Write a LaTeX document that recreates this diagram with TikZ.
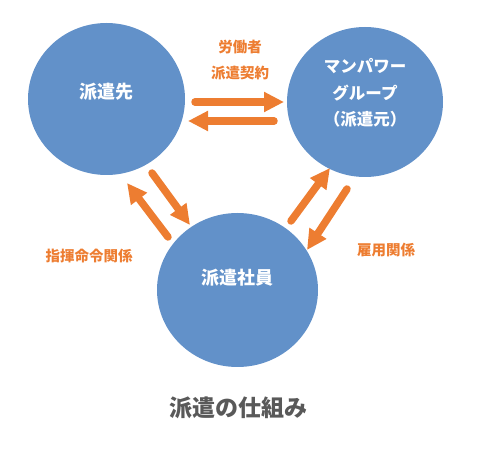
\documentclass[tikz,border=0pt]{standalone}
\usepackage{fontspec}
\setmainfont{Noto Sans CJK JP}
\usetikzlibrary{arrows.meta,positioning,shapes.geometric}
\definecolor{maru}{RGB}{98,145,201}
\definecolor{yaji}{RGB}{237,125,49}
\definecolor{hai}{RGB}{89,89,89}

\begin{document}
\begin{tikzpicture}[x=1pt,y=-1pt,
  circ/.style={ellipse,fill=maru,inner sep=0pt},
  ctext/.style={text=white,font=\bfseries\fontsize{18}{26.5}\selectfont,align=center},
  lbl/.style={text=yaji,font=\bfseries\fontsize{14.5}{26}\selectfont,align=center},
  yajirushi/.style={draw=yaji,line width=7.5pt,line cap=round,-{Triangle[length=20pt,width=19pt]}}]
\useasboundingbox (0,0) rectangle (480,454);
\node[circ,minimum width=157pt,minimum height=152pt] (saki) at (106.5,99) {};
\node[circ,minimum width=156pt,minimum height=150pt] (moto) at (365,102) {};
\node[circ,minimum width=161pt,minimum height=154pt] (shain) at (237.5,290) {};
\node[ctext] (sakitext) at ([yshift=7pt]saki.center) {派遣先};
\node[ctext,font=\bfseries\fontsize{16.5}{26.5}\selectfont] (mototext) at ([yshift=9pt]moto.center) {マンパワー\\グループ\\（派遣元）};
\node[ctext] (shaintext) at ([yshift=12pt]shain.center) {派遣社員};
% arrow ends
\coordinate (a1) at (195,102); \coordinate (b1) at (284,102);
\coordinate (a2) at (274,121); \coordinate (b2) at (188,121);
\coordinate (a3) at (152,173); \coordinate (b3) at (190,225);
\coordinate (a4) at (168,237); \coordinate (b4) at (127,183);
\coordinate (a5) at (291,221); \coordinate (b5) at (330,168);
\coordinate (a6) at (347,189); \coordinate (b6) at (307,250);
\foreach \s/\e in {a1/b1,a2/b2,a3/b3,a4/b4,a5/b5,a6/b6}{\draw[yajirushi] (\s) -- (\e);}
\node[lbl] (keiyaku) at (240,60) {労働者\\派遣契約};
\node[lbl] (shiki) at (89,256) {指揮命令関係};
\node[lbl] (koyou) at (386,250) {雇用関係};
\node[text=hai,font=\bfseries\fontsize{23}{26}\selectfont] (title) at (238,408) {派遣の仕組み};
\end{tikzpicture}
\end{document}
